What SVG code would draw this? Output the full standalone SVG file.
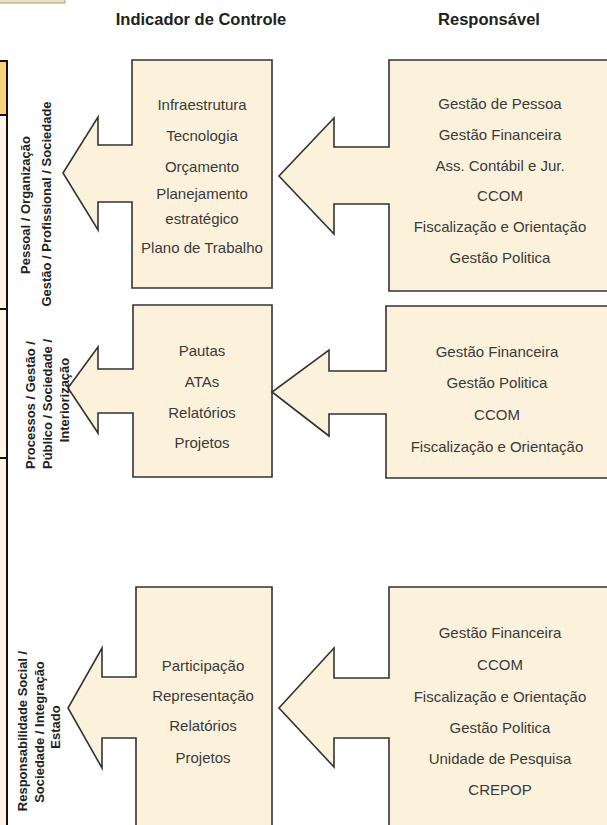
<svg xmlns="http://www.w3.org/2000/svg" width="607" height="825" viewBox="0 0 607 825">
<style>
.box{fill:#fcf2dc;stroke:#333;stroke-width:1.6;stroke-linejoin:miter}
.t{font-family:"Liberation Sans",Arial,sans-serif;font-size:15px;fill:#3a3a3a;text-anchor:middle}
.h{font-family:"Liberation Sans",Arial,sans-serif;font-size:16.5px;font-weight:bold;fill:#222;text-anchor:middle}
.v{font-family:"Liberation Sans",Arial,sans-serif;font-size:13px;font-weight:bold;fill:#222;text-anchor:middle}
</style>
<rect width="607" height="825" fill="#fff"/>
<g id="topbar"><rect x="-2" y="-2" width="67" height="5" fill="#ece0c4" stroke="#a89c80" stroke-width="1"/></g>
<g id="leftstrip">
<rect x="-2" y="61" width="9" height="54" fill="#f7d27a"/>
<rect x="-2" y="115" width="9" height="712" fill="#fdf6e4"/>
<path d="M-2 61H7V827M-2 115H7M-2 309H7M-2 458H7" fill="none" stroke="#111" stroke-width="2"/>
</g>
<text class="h" x="201" y="25">Indicador de Controle</text>
<text class="h" x="489" y="25">Responsável</text>
<g id="connectors"/>
<g id="ind1">
<path class="box" d="M272 60H132V145H98V117L63 173L98 230V202H132V288H272Z"/>
<text class="t" x="202" y="110">Infraestrutura</text>
<text class="t" x="202" y="141">Tecnologia</text>
<text class="t" x="202" y="172">Orçamento</text>
<text class="t" x="202" y="199">Planejamento</text>
<text class="t" x="202" y="224">estratégico</text>
<text class="t" x="202" y="253">Plano de Trabalho</text>
</g>
<g id="resp1">
<path class="box" d="M620 60H389V147H334V118L279 176L334 234V204H389V291H620Z"/>
<text class="t" x="500" y="109">Gestão de Pessoa</text>
<text class="t" x="500" y="140">Gestão Financeira</text>
<text class="t" x="500" y="171">Ass. Contábil e Jur.</text>
<text class="t" x="500" y="201">CCOM</text>
<text class="t" x="500" y="232">Fiscalização e Orientação</text>
<text class="t" x="500" y="263">Gestão Politica</text>
</g>
<g id="ind2">
<path class="box" d="M272 305H133V369H98V347L68 388L98 433V413H133V477H272Z"/>
<text class="t" x="202" y="356">Pautas</text>
<text class="t" x="202" y="387">ATAs</text>
<text class="t" x="202" y="418">Relatórios</text>
<text class="t" x="202" y="448">Projetos</text>
</g>
<g id="resp2">
<path class="box" d="M620 306H386V371H329V350L272 392L329 436V414H386V478H620Z"/>
<text class="t" x="497" y="357">Gestão Financeira</text>
<text class="t" x="497" y="388">Gestão Politica</text>
<text class="t" x="497" y="420">CCOM</text>
<text class="t" x="497" y="452">Fiscalização e Orientação</text>
</g>
<g id="ind3">
<path class="box" d="M272 587H136V677H102V648L68 708L102 768V738H136V832H272Z"/>
<text class="t" x="203" y="671">Participação</text>
<text class="t" x="203" y="701">Representação</text>
<text class="t" x="203" y="731">Relatórios</text>
<text class="t" x="203" y="763">Projetos</text>
</g>
<g id="resp3">
<path class="box" d="M620 587H389V678H334V648L279 708L334 767V738H389V832H620Z"/>
<text class="t" x="500" y="638">Gestão Financeira</text>
<text class="t" x="500" y="670">CCOM</text>
<text class="t" x="500" y="702">Fiscalização e Orientação</text>
<text class="t" x="500" y="733">Gestão Politica</text>
<text class="t" x="500" y="764">Unidade de Pesquisa</text>
<text class="t" x="500" y="795">CREPOP</text>
</g>
<g id="label1">
<text class="v" transform="translate(30 205) rotate(-90)">Pessoal / Organização</text>
<text class="v" transform="translate(51 204) rotate(-90)">Gestão / Profissional / Sociedade</text>
</g>
<g id="label2">
<text class="v" transform="translate(35 405) rotate(-90)">Processos / Gestão /</text>
<text class="v" transform="translate(52 404) rotate(-90)">Público / Sociedade /</text>
<text class="v" transform="translate(69 400) rotate(-90)">Interiorização</text>
</g>
<g id="label3">
<text class="v" transform="translate(27 731) rotate(-90)">Responsabilidade Social /</text>
<text class="v" transform="translate(44 732) rotate(-90)">Sociedade / Integração</text>
<text class="v" transform="translate(60 727) rotate(-90)">Estado</text>
</g>
</svg>
